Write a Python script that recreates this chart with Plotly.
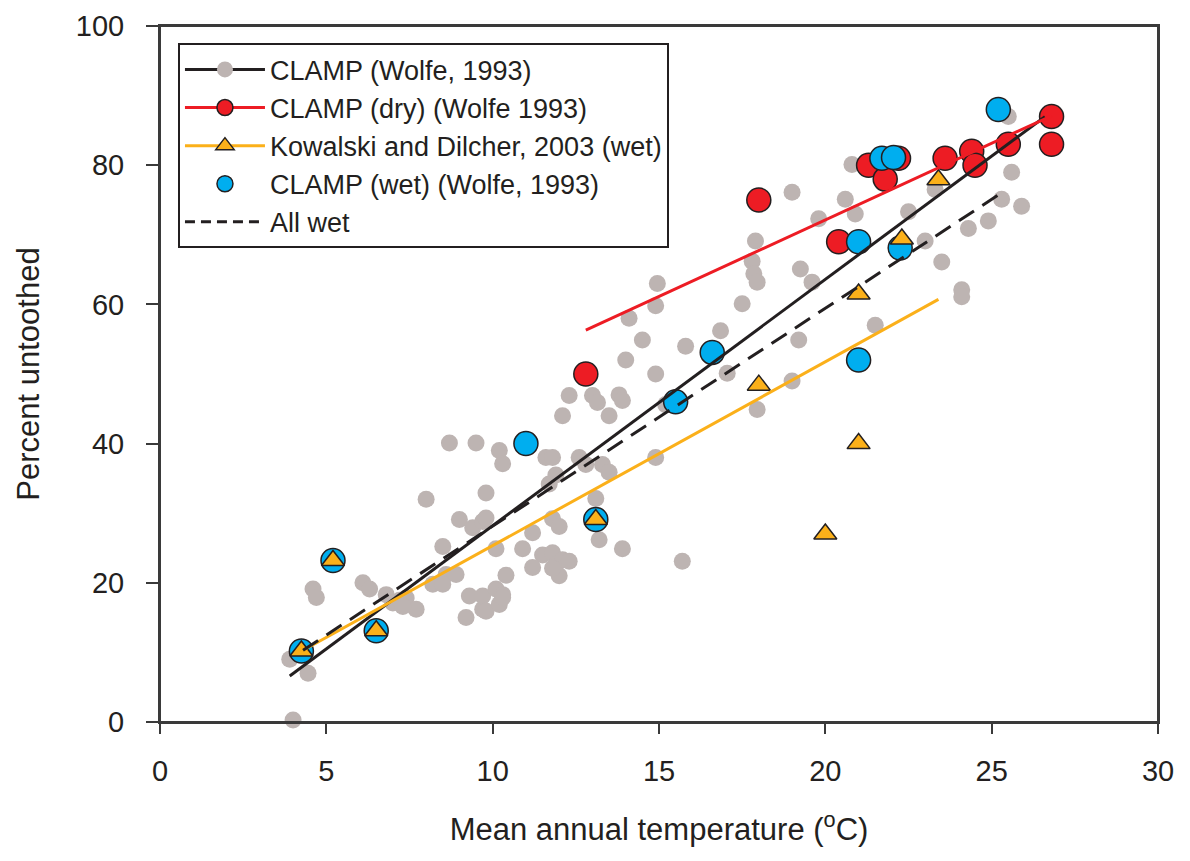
import plotly.graph_objects as go

# ---------------- data ----------------
clamp_x = [4.0, 3.9, 4.45, 4.6, 4.7, 6.1, 6.3, 6.8, 7.0, 7.2, 7.4, 7.7, 7.3,
           8.0, 8.7, 9.5, 9.0, 9.4, 9.7, 9.8, 8.5, 8.6, 8.9, 8.2, 8.5, 9.3, 9.2, 9.8, 9.7, 9.7,
           10.2, 10.3, 10.1, 10.9, 10.4, 10.1, 10.3, 9.8, 10.2, 10.3,
           11.2, 11.5, 11.8, 11.2, 11.9, 12.1, 12.0, 11.8, 12.3,
           11.8, 12.0, 11.6, 11.8, 11.9, 11.7,
           12.1, 12.3, 12.6, 12.8, 13.0, 13.15, 13.3, 13.5, 13.1, 13.2, 13.9,
           13.8, 13.9, 13.5, 14.0, 14.5, 14.1, 14.95, 14.9, 14.9, 14.9, 15.2, 15.8, 15.7,
           16.85, 17.05, 17.5, 17.9, 17.8, 17.85, 17.95, 17.95,
           19.0, 19.0, 19.25, 19.2, 19.6, 19.8, 20.6, 20.8, 20.9,
           21.5, 22.5, 23.0, 23.5, 24.1, 24.1, 24.3, 24.9, 25.3, 25.9, 25.6, 25.5, 23.3]
clamp_y = [0.3, 9.0, 7.0, 19.1, 17.9, 20.0, 19.1, 18.3, 17.1, 17.5, 17.8, 16.2, 16.6,
           32.0, 40.1, 40.1, 29.1, 27.9, 28.8, 29.3, 25.2, 21.2, 21.2, 19.8, 19.8, 18.1, 15.0, 32.9, 16.2, 18.1,
           39.0, 37.1, 24.9, 24.9, 21.1, 19.1, 18.3, 15.9, 16.9, 17.9,
           27.2, 24.0, 24.3, 22.2, 22.6, 23.3, 21.0, 22.1, 23.1,
           29.2, 28.1, 38.0, 38.0, 35.5, 34.2,
           44.0, 46.9, 38.0, 37.0, 46.9, 45.9, 37.0, 35.9, 32.1, 26.2, 24.9,
           47.0, 46.2, 44.0, 52.0, 54.9, 58.0, 63.0, 59.8, 50.0, 38.0, 45.6, 54.0, 23.1,
           56.2, 50.1, 60.1, 69.1, 66.2, 64.4, 63.2, 44.9,
           76.1, 49.0, 65.1, 54.9, 63.2, 72.3, 75.1, 80.1, 73.0,
           57.0, 73.3, 69.1, 66.1, 62.1, 61.1, 70.9, 72.0, 75.1, 74.1, 79.0, 87.0, 76.5]

dry_x = [12.8, 18.0, 20.4, 21.3, 21.8, 22.2, 23.6, 24.4, 24.5, 25.5, 26.8, 26.8]
dry_y = [50.0, 75.0, 69.0, 80.0, 78.0, 81.0, 81.0, 82.0, 80.0, 83.0, 87.0, 83.0]

wet_x = [4.25, 5.2, 6.5, 11.0, 13.1, 15.5, 16.6, 21.0, 21.0, 21.7, 22.05, 22.25, 25.2]
wet_y = [10.2, 23.2, 13.1, 40.0, 29.1, 46.0, 53.1, 69.0, 52.0, 81.0, 81.1, 68.1, 88.0]

kd_x = [4.25, 5.2, 6.5, 13.1, 18.0, 20.0, 21.0, 21.0, 22.3, 23.4]
kd_y = [10.2, 23.2, 13.1, 29.1, 48.4, 27.0, 40.0, 61.5, 69.4, 77.9]

# regression lines: slope, intercept, x-range
fit_clamp = {"slope": 3.54, "intercept": -7.2, "xmin": 3.9, "xmax": 26.6}
fit_dry = {"slope": 2.2, "intercept": 28.14, "xmin": 12.8, "xmax": 26.8}
fit_kd = {"slope": 2.64, "intercept": -1.05, "xmin": 4.3, "xmax": 23.4}
fit_allwet = {"slope": 3.13, "intercept": -3.16, "xmin": 4.3, "xmax": 25.2}

x_ticks = [0, 5, 10, 15, 20, 25, 30]
y_ticks = [0, 20, 40, 60, 80, 100]

legend_names = ["CLAMP (Wolfe, 1993)", "CLAMP (dry) (Wolfe 1993)",
                "Kowalski and Dilcher, 2003 (wet)", "CLAMP (wet) (Wolfe, 1993)", "All wet"]

# ---------------- styles ----------------
GRAY = "#bdb4b2"
RED = "#ed1c24"
CYAN = "#00aeef"
ORANGE = "#fbb01a"
BLACK = "#231f20"
FRAME = "#3a3a3a"
FONT = "Liberation Sans, Arial, sans-serif"


def line_pts(fit):
    xs = [fit["xmin"], fit["xmax"]]
    ys = [fit["slope"] * v + fit["intercept"] for v in xs]
    return xs, ys


fig = go.Figure()

# legend-only entries (in the order of the reference legend)
fig.add_trace(go.Scatter(x=[None], y=[None], mode="lines+markers", name=legend_names[0],
                         line=dict(color=BLACK, width=3),
                         marker=dict(color=GRAY, size=16, line=dict(width=0))))
fig.add_trace(go.Scatter(x=[None], y=[None], mode="lines+markers", name=legend_names[1],
                         line=dict(color=RED, width=3),
                         marker=dict(color=RED, size=16, line=dict(color=BLACK, width=1.5))))
fig.add_trace(go.Scatter(x=[None], y=[None], mode="lines+markers", name=legend_names[2],
                         line=dict(color=ORANGE, width=3),
                         marker=dict(color=ORANGE, size=16, symbol="triangle-up",
                                     line=dict(color=BLACK, width=1.5))))
fig.add_trace(go.Scatter(x=[None], y=[None], mode="markers", name=legend_names[3],
                         marker=dict(color=CYAN, size=16, line=dict(color=BLACK, width=1.5))))
fig.add_trace(go.Scatter(x=[None], y=[None], mode="lines", name=legend_names[4],
                         line=dict(color=BLACK, width=3, dash="10px,6px")))

# data markers
fig.add_trace(go.Scatter(x=clamp_x, y=clamp_y, mode="markers", showlegend=False,
                         cliponaxis=False,
                         marker=dict(color=GRAY, size=17, line=dict(width=0))))
fig.add_trace(go.Scatter(x=dry_x, y=dry_y, mode="markers", showlegend=False,
                         marker=dict(color=RED, size=24, line=dict(color=BLACK, width=1.5))))
fig.add_trace(go.Scatter(x=wet_x, y=wet_y, mode="markers", showlegend=False,
                         marker=dict(color=CYAN, size=24, line=dict(color=BLACK, width=1.5))))
fig.add_trace(go.Scatter(x=kd_x, y=kd_y, mode="markers", showlegend=False,
                         marker=dict(color=ORANGE, size=20, symbol="triangle-up",
                                     line=dict(color=BLACK, width=1.5))))

# regression lines
for fit, color, dash in [(fit_clamp, BLACK, "solid"), (fit_dry, RED, "solid"),
                         (fit_kd, ORANGE, "solid"), (fit_allwet, BLACK, "18px,10px")]:
    xs, ys = line_pts(fit)
    fig.add_trace(go.Scatter(x=xs, y=ys, mode="lines", showlegend=False,
                             line=dict(color=color, width=3, dash=dash)))

axis_common = dict(showgrid=False, zeroline=False, showline=True, linecolor=FRAME,
                   linewidth=2, mirror=True, ticks="outside", tickwidth=1.5,
                   automargin=False, ticklabeloverflow="allow",
                   tickcolor=FRAME, tickfont=dict(family=FONT, size=29, color=BLACK))

fig.update_xaxes(range=[0, 30], tickvals=x_ticks, ticklen=10, ticklabelstandoff=12,
                 title=dict(text="Mean annual temperature (<sup>o</sup>C)",
                            font=dict(family=FONT, size=31, color=BLACK), standoff=33),
                 **axis_common)
fig.update_yaxes(range=[0, 100], tickvals=y_ticks, ticklen=12, ticklabelstandoff=16,
                 title=dict(text="Percent untoothed",
                            font=dict(family=FONT, size=31, color=BLACK), standoff=27),
                 **axis_common)

# plot frame (top and right edges of the axes box)
fig.add_shape(type="rect", xref="paper", yref="paper", x0=0, y0=0, x1=1, y1=1,
              line=dict(color=FRAME, width=2), layer="above")

fig.update_layout(
    width=1190, height=861,
    margin=dict(l=152, r=40, t=18, b=147),
    paper_bgcolor="white", plot_bgcolor="white",
    font=dict(family=FONT, color=BLACK),
    legend=dict(x=0.018, y=0.975, xanchor="left", yanchor="top",
                bgcolor="white", bordercolor=BLACK, borderwidth=2,
                font=dict(family=FONT, size=27, color=BLACK),
                itemwidth=80, tracegroupgap=0),
)

fig.write_html("out.html")
